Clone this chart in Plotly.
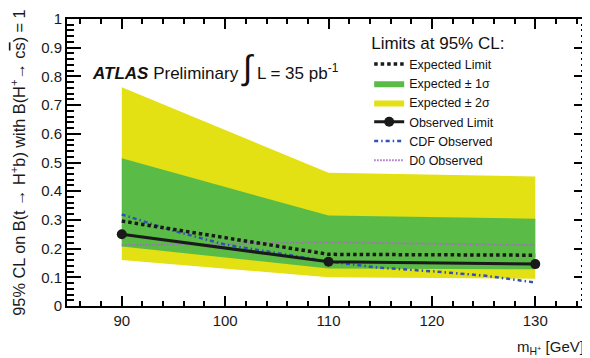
import plotly.graph_objects as go

# masses (GeV)
mass = [90, 110, 130]
expected = [0.296, 0.180, 0.177]
observed = [0.250, 0.154, 0.146]
band1_hi = [0.515, 0.315, 0.304]
band1_lo = [0.207, 0.131, 0.128]
band2_hi = [0.762, 0.464, 0.451]
band2_lo = [0.160, 0.100, 0.095]

cdf_mass = [90, 95, 100, 105, 110, 115, 120, 125, 130]
cdf_obs = [0.319, 0.262, 0.214, 0.184, 0.155, 0.133, 0.121, 0.106, 0.082]

d0_mass = [90, 110, 130]
d0_obs = [0.212, 0.222, 0.212]

YELLOW = "#e3e013"
GREEN = "#5bbb47"
FONT = "Liberation Sans, Arial, Helvetica, sans-serif"
TXT = "#1a1a1a"

fig = go.Figure()

# +-2 sigma band
fig.add_trace(go.Scatter(x=mass, y=band2_hi, mode="lines", line=dict(width=0, color=YELLOW),
                         showlegend=False, hoverinfo="skip"))
fig.add_trace(go.Scatter(x=mass, y=band2_lo, mode="lines", line=dict(width=0, color=YELLOW),
                         fill="tonexty", fillcolor=YELLOW, name="Expected \u00b1 2\u03c3",
                         legendrank=3))
# +-1 sigma band
fig.add_trace(go.Scatter(x=mass, y=band1_hi, mode="lines", line=dict(width=0, color=GREEN),
                         showlegend=False, hoverinfo="skip"))
fig.add_trace(go.Scatter(x=mass, y=band1_lo, mode="lines", line=dict(width=0, color=GREEN),
                         fill="tonexty", fillcolor=GREEN, name="Expected \u00b1 1\u03c3",
                         legendrank=2))

fig.add_trace(go.Scatter(x=d0_mass, y=d0_obs, mode="lines",
                         line=dict(color="#a56cc1", width=2, dash="1.5px,1.5px"),
                         name="D0 Observed", legendrank=6))
fig.add_trace(go.Scatter(x=cdf_mass, y=cdf_obs, mode="lines",
                         line=dict(color="#3350b5", width=2.5, dash="4px,3px,1.5px,3px"),
                         name="CDF Observed", legendrank=5))
fig.add_trace(go.Scatter(x=mass, y=expected, mode="lines",
                         line=dict(color=TXT, width=3.5, dash="3.5px,3px"),
                         name="Expected Limit", legendrank=1))
fig.add_trace(go.Scatter(x=mass, y=observed, mode="lines+markers",
                         line=dict(color=TXT, width=3),
                         marker=dict(color=TXT, size=10),
                         name="Observed Limit", legendrank=4))

axis_common = dict(showline=True, linecolor="black", linewidth=2, mirror="ticks",
                   ticks="inside", tickcolor="black", showgrid=False, zeroline=False,
                   automargin=False,
                   tickfont=dict(family=FONT, size=15, color=TXT))

fig.update_xaxes(range=[84.7, 135.1], dtick=10, tick0=90, ticklen=10, tickwidth=2,
                 minor=dict(dtick=2, ticks="inside", ticklen=5, tickcolor="black", tickwidth=1.5),
                 **axis_common)
fig.update_yaxes(range=[0, 1], dtick=0.1, tick0=0, ticklen=14, tickwidth=2,
                 minor=dict(dtick=0.02, ticks="inside", ticklen=7, tickcolor="black", tickwidth=1.5),
                 title=dict(text="95% CL on B(t \u2192 H<sup>+</sup>b) with B(H<sup>+</sup>\u2192 c<span style='text-decoration:overline'>s</span>) = 1",
                            font=dict(family=FONT, size=16.3, color=TXT), standoff=16),
                 **axis_common)

fig.add_annotation(xref="paper", yref="paper", x=1.0, y=-0.105, xanchor="right", yanchor="top",
                   xshift=-2,
                   text="m<sub>H<sup>+</sup></sub> [GeV]", showarrow=False,
                   font=dict(family=FONT, size=15, color=TXT))

fig.add_annotation(xref="paper", yref="paper", x=0.045, y=0.83, xanchor="left", yanchor="middle",
                   text="<b><i>ATLAS</i></b> Preliminary <span style='font-size:34px'>\u222b</span> L = 35 pb<sup>-1</sup>",
                   showarrow=False, font=dict(family=FONT, size=17, color="#111"))

# page body has an 8px default margin, so the figure is sized to fit the 590x358 window
fig.update_layout(
    template="none",
    width=582, height=350,
    margin=dict(l=59, r=2, t=11, b=52, autoexpand=False),
    paper_bgcolor="white", plot_bgcolor="white",
    font=dict(family=FONT, color=TXT),
    legend=dict(x=0.58, y=0.971, xanchor="left", yanchor="top",
                bgcolor="rgba(255,255,255,0)", traceorder="normal",
                font=dict(family=FONT, size=12.5, color="#111"),
                title=dict(text="Limits at 95% CL:", font=dict(family=FONT, size=17, color="#111")),
                tracegroupgap=0, itemwidth=30),
)

fig.write_html("out.html")
